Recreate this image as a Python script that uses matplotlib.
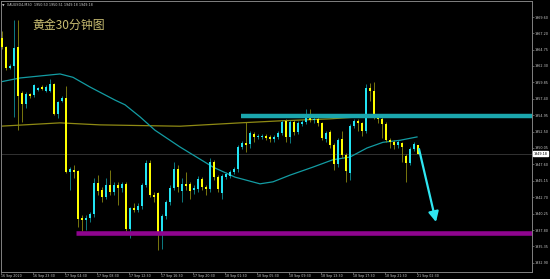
import matplotlib
matplotlib.use("Agg")
import matplotlib.pyplot as plt
import numpy as np

# =========================
# DATA (XAUUSD M30)
# =========================
opens = [1966.5, 1965.1, 1962.0, 1962.3, 1965.1, 1958.3, 1956.6, 1958.1, 1957.9, 1958.7,
         1959.2, 1958.6, 1958.6, 1959.6, 1955.1, 1957.1, 1957.5, 1946.5, 1946.8, 1946.6,
         1939.6, 1939.3, 1939.6, 1940.2, 1944.8, 1943.8, 1942.7, 1944.5, 1943.5, 1944.5,
         1944.1, 1944.7, 1938.0, 1941.1, 1940.8, 1941.4, 1944.5, 1947.8, 1943.0, 1943.3,
         1937.4, 1939.9, 1942.0, 1944.1, 1946.9, 1943.6, 1944.7, 1944.7, 1943.8, 1943.9,
         1945.4, 1944.2, 1943.9, 1948.0, 1945.7, 1943.3, 1945.7, 1945.9, 1946.5, 1946.9,
         1950.2, 1950.8, 1950.6, 1952.1, 1951.7, 1951.7, 1951.9, 1951.7, 1951.4, 1951.7,
         1952.3, 1954.1, 1951.7, 1953.9, 1952.4, 1953.6, 1953.9, 1955.1, 1954.2, 1954.4,
         1953.8, 1951.4, 1952.4, 1950.5, 1947.7, 1951.4, 1949.0, 1946.3, 1953.3, 1954.1,
         1953.8, 1952.6, 1959.0, 1958.6, 1954.7, 1954.4, 1953.6, 1951.2, 1950.9, 1950.5,
         1950.8, 1948.9, 1947.8, 1949.9, 1950.50]
highs = [1967.5, 1965.3, 1962.6, 1969.2, 1969.2, 1958.6, 1958.4, 1958.3, 1959.6, 1959.2,
         1959.4, 1959.4, 1960.4, 1959.8, 1957.1, 1957.8, 1959.3, 1947.2, 1947.5, 1946.8,
         1940.0, 1940.0, 1940.5, 1945.5, 1946.0, 1944.2, 1945.6, 1946.8, 1945.0, 1945.0,
         1945.0, 1945.0, 1941.3, 1941.8, 1941.8, 1944.8, 1948.2, 1948.3, 1943.5, 1943.5,
         1940.2, 1942.3, 1944.5, 1948.0, 1947.5, 1945.5, 1946.5, 1945.0, 1944.5, 1945.8,
         1945.7, 1944.5, 1948.5, 1948.2, 1946.0, 1946.2, 1946.5, 1946.8, 1947.2, 1950.5,
         1951.1, 1953.9, 1952.6, 1952.4, 1952.2, 1952.2, 1952.2, 1952.0, 1952.0, 1952.6,
         1954.2, 1954.4, 1954.2, 1954.2, 1954.1, 1954.2, 1955.9, 1955.9, 1954.7, 1954.7,
         1954.0, 1952.6, 1952.7, 1950.8, 1951.5, 1952.6, 1949.3, 1953.6, 1954.4, 1954.4,
         1954.0, 1959.6, 1959.7, 1959.9, 1955.0, 1954.7, 1953.9, 1951.5, 1951.2, 1951.2,
         1951.0, 1949.1, 1950.2, 1950.9, 1950.51]
lows = [1964.8, 1961.7, 1961.8, 1954.7, 1952.7, 1954.0, 1956.0, 1957.5, 1957.7, 1958.5,
        1958.7, 1958.4, 1958.4, 1954.9, 1954.5, 1956.9, 1946.3, 1943.8, 1945.5, 1938.3,
        1937.6, 1937.8, 1939.0, 1939.8, 1943.0, 1942.0, 1942.4, 1943.0, 1943.0, 1941.5,
        1943.5, 1937.7, 1936.6, 1940.5, 1940.5, 1941.0, 1944.2, 1942.8, 1942.0, 1934.8,
        1934.9, 1939.5, 1941.5, 1943.8, 1943.5, 1942.0, 1943.8, 1942.5, 1943.2, 1943.5,
        1943.8, 1943.0, 1943.5, 1945.3, 1943.5, 1942.5, 1945.4, 1945.6, 1946.2, 1946.5,
        1949.9, 1949.5, 1950.0, 1951.0, 1951.4, 1951.4, 1951.2, 1950.9, 1951.0, 1951.4,
        1952.0, 1951.0, 1950.8, 1952.0, 1952.1, 1953.3, 1953.6, 1953.9, 1953.8, 1953.4,
        1951.2, 1950.9, 1950.0, 1946.8, 1947.2, 1948.6, 1944.9, 1945.3, 1953.0, 1952.6,
        1951.8, 1952.3, 1957.0, 1954.4, 1953.8, 1951.5, 1950.9, 1950.0, 1949.9, 1950.0,
        1948.0, 1945.0, 1947.5, 1949.6, 1949.18]
closes = [1965.1, 1962.0, 1962.3, 1965.0, 1957.8, 1956.6, 1958.1, 1957.8, 1959.4, 1959.0,
          1958.9, 1959.2, 1959.6, 1955.1, 1956.9, 1957.5, 1946.5, 1946.9, 1946.5, 1939.5,
          1939.3, 1939.6, 1940.2, 1944.8, 1943.6, 1942.7, 1944.5, 1943.5, 1944.5, 1944.1,
          1944.7, 1938.0, 1941.1, 1940.8, 1941.4, 1944.5, 1947.8, 1943.0, 1942.8, 1937.4,
          1939.9, 1942.0, 1944.1, 1946.9, 1944.2, 1944.7, 1944.4, 1943.6, 1944.1, 1945.4,
          1944.2, 1943.9, 1948.0, 1945.7, 1943.9, 1945.9, 1946.2, 1946.5, 1946.9, 1950.2,
          1950.8, 1950.5, 1952.3, 1951.7, 1951.9, 1951.9, 1951.6, 1951.4, 1951.7, 1952.3,
          1953.9, 1951.7, 1953.9, 1952.4, 1953.8, 1953.9, 1955.1, 1954.2, 1954.4, 1953.8,
          1951.5, 1952.3, 1950.5, 1947.7, 1951.2, 1949.0, 1946.6, 1953.3, 1954.1, 1953.8,
          1952.6, 1959.0, 1958.6, 1954.7, 1954.4, 1953.6, 1951.2, 1950.9, 1950.5, 1950.9,
          1950.2, 1947.8, 1949.9, 1950.6, 1949.18]

# moving averages (bar index, price)
ma_fast_x = [-0.5, 4.5, 9.5, 14.5, 17.75, 22, 28.25, 30.75, 34.5, 38.25, 44.5, 52.75,
             58.25, 64.5, 67.75, 72, 77.75, 82.75, 87, 91.25, 95.25, 99.5, 103.75]
ma_fast_y = [1959.9, 1960.5, 1960.8, 1961.1, 1960.6, 1959.15, 1957.2, 1956.5, 1954.7,
             1952.7, 1950.2, 1947.2, 1945.7, 1944.7, 1945.0, 1946.0, 1947.2, 1948.3,
             1948.7, 1950.05, 1950.9, 1951.2, 1951.7]
ma_slow_x = [-0.5, 14.5, 24.5, 44.5, 59.5, 69.5, 82, 89.5, 94.5, 103.75]
ma_slow_y = [1953.3, 1953.8, 1953.5, 1953.3, 1953.8, 1954.1, 1954.4, 1954.7, 1954.8, 1954.8]

resistance = 1954.8
resistance_from = 59.75
support = 1937.35
support_from = 18.5
last_price = 1949.18
arrow_start = (104.25, 1949.9)
arrow_end = (108.5, 1939.0)

ytick_vals = [1969.60, 1967.20, 1964.75, 1962.30, 1959.85, 1957.40, 1954.95, 1952.50,
              1950.05, 1947.60, 1945.15, 1942.70, 1940.25, 1937.80, 1935.35, 1932.90]
xtick_labels = ["16 Sep 2020", "16 Sep 23:30", "17 Sep 04:30", "17 Sep 08:30",
                "17 Sep 12:30", "17 Sep 16:30", "17 Sep 20:30", "18 Sep 01:30",
                "18 Sep 05:30", "18 Sep 09:30", "18 Sep 13:30", "18 Sep 17:30",
                "18 Sep 21:30", "21 Sep 02:30"]
xtick_pos = [-0.25] + [7.75 + 8 * k for k in range(13)]

# =========================
# COLOURS
# =========================
BG = "#000000"
UP = "#22e4f4"
DOWN = "#ffff00"
UP_WICK = "#0f8f96"
DOWN_WICK = "#8c8a10"
AXIS = "#808080"
TXT = "#c8c8c8"

# =========================
# FIGURE
# =========================
fig = plt.figure(figsize=(5.5, 2.79), dpi=100, facecolor=BG)
ax = fig.add_axes([1 / 550, 7 / 279, 531 / 550, 271 / 279])
ax.set_facecolor(BG)

o = np.array(opens)
h = np.array(highs)
l = np.array(lows)
c = np.array(closes)
idx = np.arange(len(o))
up = c >= o

# last price line
ax.axhline(last_price, color="#3a3a3a", lw=0.6, zorder=1)

# moving averages
ax.plot(ma_slow_x, ma_slow_y, color="#8f8a14", lw=0.9, zorder=2)
ax.plot(ma_fast_x, ma_fast_y, color="#139ca3", lw=0.9, zorder=2)

# candles
ax.vlines(idx[up], l[up], h[up], color=UP_WICK, lw=0.6, zorder=3)
ax.vlines(idx[~up], l[~up], h[~up], color=DOWN_WICK, lw=0.6, zorder=3)
body_lo = np.minimum(o, c)
body_h = np.maximum(np.abs(c - o), 0.18)
ax.bar(idx[up], body_h[up], bottom=body_lo[up], width=0.72, color=UP, lw=0, zorder=4)
ax.bar(idx[~up], body_h[~up], bottom=body_lo[~up], width=0.72, color=DOWN, lw=0, zorder=4)

# support / resistance bands
xmax = 132.5
ax.hlines(resistance, resistance_from, xmax, color="#1ba6ad", lw=3.2, zorder=5)
ax.hlines(support, support_from, xmax, color="#8e048e", lw=3.3, zorder=5)

# forecast arrow
ax.annotate("", xy=arrow_end, xytext=arrow_start,
            arrowprops=dict(arrowstyle="-|>,head_length=0.6,head_width=0.3",
                            color="#2fe6f2", lw=1.6, shrinkA=0, shrinkB=0), zorder=6)

ax.set_xlim(-0.25, xmax)
ax.set_ylim(1931.54, 1971.99)

for s in ax.spines.values():
    s.set_color(AXIS)
    s.set_linewidth(0.7)

ax.yaxis.tick_right()
ax.set_yticks(ytick_vals)
ax.set_yticklabels([f"{v:.2f}" for v in ytick_vals])
ax.tick_params(axis="y", colors=AXIS, labelcolor=TXT, labelsize=2.4, length=1.2,
               width=0.5, pad=0.8, direction="out")

ax.set_xticks(xtick_pos)
ax.set_xticklabels(xtick_labels)
ax.tick_params(axis="x", colors=AXIS, labelcolor=TXT, labelsize=2.3, length=1.2,
               width=0.5, pad=0.6, direction="out")
for lab in ax.get_xticklabels():
    lab.set_ha("left")

# current price tag
ax.text(1.003, last_price, f"{last_price:.2f}", transform=ax.get_yaxis_transform(),
        fontsize=2.4, color="black", va="center", ha="left",
        bbox=dict(boxstyle="square,pad=0.15", fc="white", ec="white"), zorder=10, clip_on=False)

# header and title
fig.text(2 / 550, 1 - 4.5 / 279, "▼  XAUUSD4,M30  1950.50 1950.51 1949.18 1949.18",
         fontsize=2.4, color=TXT, va="center", ha="left")
fig.text(32 / 550, 1 - 25.5 / 279, "黄金30分钟图", fontsize=8.6, color="#c9bd72",
         va="center", ha="left", family=["Noto Sans CJK SC", "DejaVu Sans"])

fig.savefig("out.png", dpi=100, facecolor=BG)
